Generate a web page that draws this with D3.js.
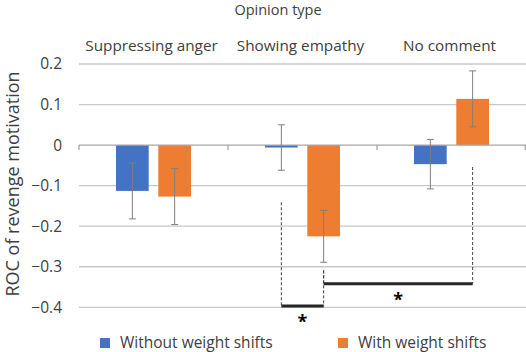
<!DOCTYPE html>
<html>
<head>
<meta charset="utf-8">
<script src="https://cdn.jsdelivr.net/npm/d3@7"></script>
<style>
  body { margin: 0; background: #fff; }
  text { font-family: "Open Sans", sans-serif; fill: #404040; }
</style>
</head>
<body>
<div id="chart-area"></div>
<script>
var categories = ["Suppressing anger", "Showing empathy", "No comment"];
var series = ["Without weight shifts", "With weight shifts"];
var withoutShift = [-0.113, -0.006, -0.047];
var withShift = [-0.127, -0.225, 0.114];
var withoutErr = [0.069, 0.056, 0.061];
var withErr = [0.069, 0.064, 0.069];
var yTicks = [0.2, 0.1, 0, -0.1, -0.2, -0.3, -0.4];

// significance brackets: [category, series] ends, bracket level, where dashed leads start
var brackets = [
  { a: [1, 0], b: [1, 1], level: -0.397, aStart: -0.141, bStart: -0.309 },
  { a: [1, 1], b: [2, 1], level: -0.342, aStart: -0.309, bStart: -0.054 }
];

var colors = ["#4472C4", "#ED7D31"];
var values = [withoutShift, withShift];
var errors = [withoutErr, withErr];

var svg = d3.select("#chart-area")
  .append("svg")
  .attr("width", 526)
  .attr("height", 352);

var x0 = d3.scaleBand()
  .domain(categories)
  .range([79, 526]);

var x1 = d3.scaleBand()
  .domain(d3.range(series.length))
  .range([0, x0.bandwidth()])
  .paddingInner(0.227)
  .paddingOuter(0.875);

var y = d3.scaleLinear()
  .domain([-0.4, 0.2])
  .range([307.3, 64]);

// gridlines
svg.append("g")
  .selectAll("line")
  .data(yTicks.filter(d => d !== 0))
  .enter()
  .append("line")
  .attr("x1", 79).attr("x2", 526)
  .attr("y1", d => y(d)).attr("y2", d => y(d))
  .attr("stroke", "#c8c8c8")
  .attr("stroke-width", 1.3);

// y tick labels
var yAxis = d3.axisLeft(y)
  .tickValues(yTicks)
  .tickSize(0)
  .tickPadding(0)
  .tickFormat(d => d === 0 ? "0" : d3.format(".1f")(d));

var yg = svg.append("g")
  .attr("transform", "translate(62,0)")
  .call(yAxis);
yg.select(".domain").remove();
yg.selectAll("text")
  .attr("font-size", "15.5px")
  .attr("font-family", "'Open Sans', sans-serif")
  .attr("fill", "#404040");

// bars
categories.forEach((c, i) => {
  series.forEach((s, j) => {
    var v = values[j][i];
    svg.append("rect")
      .attr("x", x0(c) + x1(j))
      .attr("y", y(Math.max(0, v)))
      .attr("width", x1.bandwidth())
      .attr("height", Math.abs(y(v) - y(0)))
      .attr("fill", colors[j]);
  });
});

// zero axis with ticks
svg.append("line")
  .attr("x1", 79).attr("x2", 526)
  .attr("y1", y(0)).attr("y2", y(0))
  .attr("stroke", "#a6a6a6")
  .attr("stroke-width", 1.3);

svg.append("g")
  .selectAll("line")
  .data(categories.map(c => x0(c)).concat([x0.range()[1] - 0.7]))
  .enter()
  .append("line")
  .attr("x1", d => d).attr("x2", d => d)
  .attr("y1", y(0)).attr("y2", y(0) + 5)
  .attr("stroke", "#a6a6a6")
  .attr("stroke-width", 1.3);

// error bars
var errG = svg.append("g")
  .attr("stroke", "#7f7f7f")
  .attr("stroke-width", 1);
categories.forEach((c, i) => {
  series.forEach((s, j) => {
    var cx = x0(c) + x1(j) + x1.bandwidth() / 2;
    var v = values[j][i], e = errors[j][i];
    errG.append("line")
      .attr("x1", cx).attr("x2", cx)
      .attr("y1", y(v + e)).attr("y2", y(v - e));
    [v + e, v - e].forEach(t => {
      errG.append("line")
        .attr("x1", cx - 3.5).attr("x2", cx + 3.5)
        .attr("y1", y(t)).attr("y2", y(t));
    });
  });
});

// significance brackets
function barCenter(p) {
  return x0(categories[p[0]]) + x1(p[1]) + x1.bandwidth() / 2;
}
brackets.forEach(b => {
  var xa = barCenter(b.a), xb = barCenter(b.b);
  [[xa, b.aStart], [xb, b.bStart]].forEach(p => {
    svg.append("line")
      .attr("x1", p[0]).attr("x2", p[0])
      .attr("y1", y(p[1])).attr("y2", y(b.level))
      .attr("stroke", "#404040")
      .attr("stroke-width", 1)
      .attr("stroke-dasharray", "3,2");
  });
  svg.append("line")
    .attr("x1", xa).attr("x2", xb)
    .attr("y1", y(b.level)).attr("y2", y(b.level))
    .attr("stroke", "#262626")
    .attr("stroke-width", 3);
  svg.append("text")
    .attr("x", (xa + xb) / 2)
    .attr("y", y(b.level) + 22)
    .attr("text-anchor", "middle")
    .attr("font-size", "18px")
    .attr("font-weight", "bold")
    .style("fill", "#000")
    .text("*");
});

// titles
svg.append("text")
  .attr("x", 278)
  .attr("y", 14.5)
  .attr("text-anchor", "middle")
  .attr("font-size", "14.5px")
  .text("Opinion type");

svg.selectAll(".cat-label")
  .data(categories)
  .enter()
  .append("text")
  .attr("class", "cat-label")
  .attr("x", d => x0(d) + x0.bandwidth() / 2 - 2)
  .attr("y", 51)
  .attr("text-anchor", "middle")
  .attr("font-size", "15.3px")
  .text(d => d);

svg.append("text")
  .attr("transform", "translate(19,184) rotate(-90)")
  .attr("text-anchor", "middle")
  .attr("font-size", "18px")
  .text("ROC of revenge motivation");

// legend
var legendX = [100, 338];
series.forEach((s, j) => {
  svg.append("rect")
    .attr("x", legendX[j])
    .attr("y", 338)
    .attr("width", 10)
    .attr("height", 10)
    .attr("fill", colors[j]);
  svg.append("text")
    .attr("x", legendX[j] + 20)
    .attr("y", 348)
    .attr("font-size", "15.5px")
    .text(s);
});
</script>
</body>
</html>
